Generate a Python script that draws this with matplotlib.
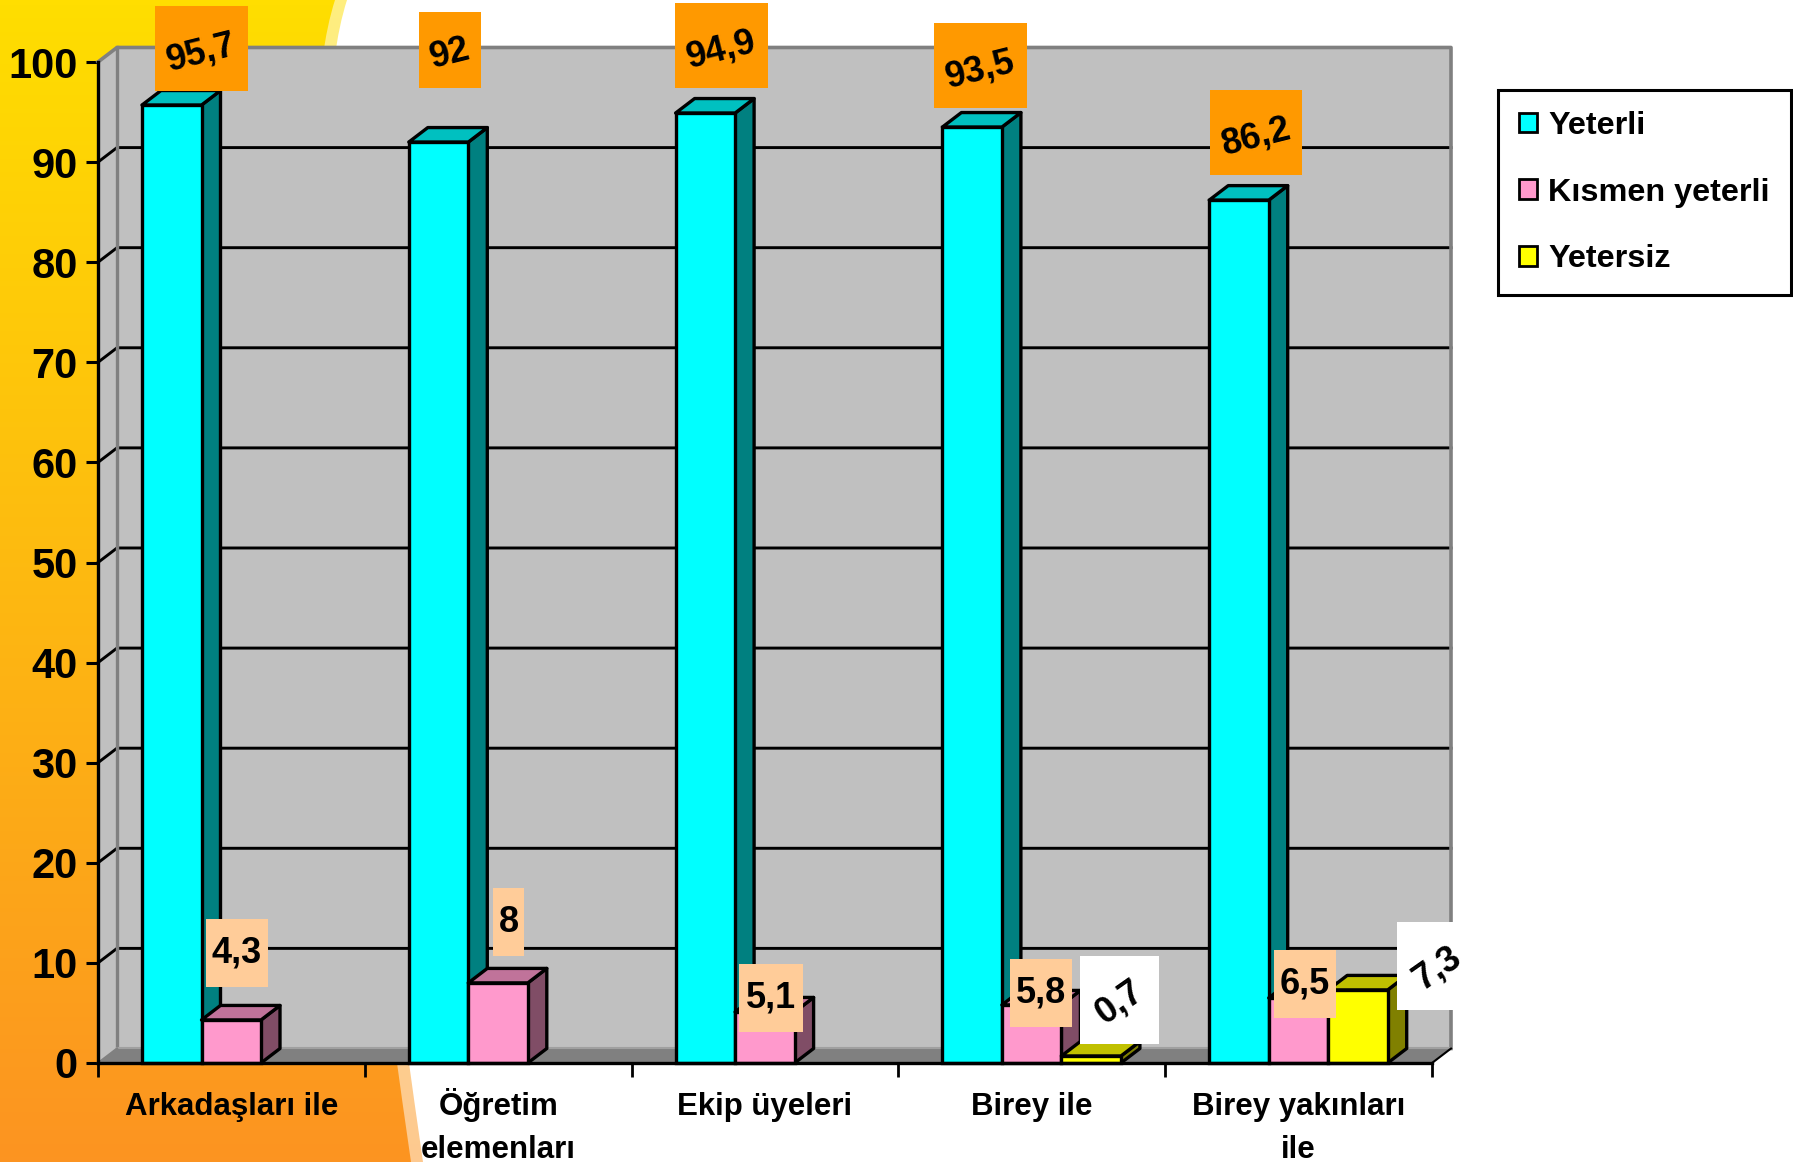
import numpy as np
import matplotlib
matplotlib.use("Agg")
import matplotlib.pyplot as plt
from matplotlib.patches import Patch, PathPatch, Rectangle
from matplotlib.path import Path
from matplotlib.transforms import ScaledTranslation

plt.rcParams['font.family'] = ['Liberation Sans', 'DejaVu Sans']
plt.rcParams['font.weight'] = 'bold'

W, H = 1793, 1162

categories = ['Arkadaşları ile', 'Öğretim\nelemenları', 'Ekip üyeleri', 'Birey ile', 'Birey yakınları\nile']
yeterli = [95.7, 92, 94.9, 93.5, 86.2]
kismen = [4.3, 8, 5.1, 5.8, 6.5]
yetersiz = [0, 0, 0, 0.7, 7.3]
series_names = ['Yeterli', 'Kısmen yeterli', 'Yetersiz']
y_ticks = list(range(0, 101, 10))

# front, side, top colours of each series
colors = [('#00FFFF', '#008080', '#00C0C0'),
          ('#FF99CC', '#804D66', '#C0739A'),
          ('#FFFF00', '#808000', '#C0C000')]

# label boxes in pixels (x0, y0, x1, y1), rotation of the text
boxes_1 = [(155, 6, 248, 91), (419, 12, 481, 88), (675, 3, 768, 88), (934, 23, 1027, 108), (1210, 90, 1302, 175)]
boxes_2 = [(206, 919, 268, 987), (493, 888, 524, 956), (739, 964, 803, 1032), (1010, 959, 1072, 1027), (1274, 950, 1336, 1018)]
boxes_3 = [None, None, None, (1080, 956, 1159, 1044), (1397, 922, 1477, 1010)]
box_colors = ['#FF9900', '#FFCC99', '#FFFFFF']
box_rot = [14, 0, 35]
box_shift = [4, 0, 2]

LW = 2.4
DX = 19 / 266.8   # 3d depth in category units
DY = 1.45         # 3d depth in value units
BAR_W = 59.5 / 266.8
BAR_START = 44 / 266.8

fig = plt.figure(figsize=(W / 100, H / 100), dpi=100, facecolor='white')

# background shape with the gradient
bg = fig.add_axes([0, 0, 1, 1], zorder=0)
bg.set_xlim(0, W)
bg.set_ylim(H, 0)
bg.axis('off')
grad = np.linspace(0, 1, 256).reshape(-1, 1, 1)
top, bottom = np.array([255, 222, 0]) / 255, np.array([252, 148, 33]) / 255
img = top + (bottom - top) * grad
light = img * 0.5 + 0.5


def side_shape(shift):
    verts = [(0, 0), (335 + shift, 0), (271 + shift, 195), (411 + shift, 1162), (0, 1162), (0, 0)]
    codes = [Path.MOVETO, Path.LINETO, Path.CURVE3, Path.CURVE3, Path.LINETO, Path.CLOSEPOLY]
    return PathPatch(Path(verts, codes), transform=bg.transData, fc='none', ec='none')


im1 = bg.imshow(light, extent=(0, W, H, 0), aspect='auto', zorder=1)
im1.set_clip_path(side_shape(12))
im2 = bg.imshow(img, extent=(0, W, H, 0), aspect='auto', zorder=2)
im2.set_clip_path(side_shape(0))
bg.set_xlim(0, W)
bg.set_ylim(H, 0)

# main chart, front plane of the 3d box
x0, x1 = 98, 1432
y0, y100 = 1063, 62
ax = fig.add_axes([x0 / W, 1 - y0 / H, (x1 - x0) / W, (y0 - y100) / H], zorder=1)
ax.patch.set_visible(False)
ax.set_xlim(0, 5)
ax.set_ylim(0, 100)

ax.fill([0, DX, DX, 0], [0, DY, 100 + DY, 100], color='#C0C0C0', lw=0, clip_on=False, zorder=1)
ax.fill([DX, 5 + DX, 5 + DX, DX], [DY, DY, 100 + DY, 100 + DY], color='#C0C0C0', lw=0, clip_on=False, zorder=1)
ax.fill([0, 5, 5 + DX, DX], [0, 0, DY, DY], color='#808080', lw=0, clip_on=False, zorder=1)

for v in y_ticks[1:-1]:
    ax.plot([0, DX, 5 + DX], [v, v + DY, v + DY], color='black', lw=2.1, clip_on=False, zorder=2)
ax.plot([0, DX, 5 + DX, 5 + DX], [100, 100 + DY, 100 + DY, DY], color='#808080', lw=2.6, clip_on=False, zorder=2)
ax.plot([DX, DX], [DY, 100 + DY], color='#808080', lw=2.4, clip_on=False, zorder=2)
ax.plot([DX, 5 + DX], [DY, DY], color='#A0A0A0', lw=1.5, clip_on=False, zorder=2)
ax.plot([0, DX], [0, DY], color='#808080', lw=1.5, clip_on=False, zorder=2)
ax.plot([5, 5 + DX], [0, DY], color='black', lw=1.5, clip_on=False, zorder=2)

for j, vals in enumerate([yeterli, kismen, yetersiz]):
    for i, v in enumerate(vals):
        if v == 0:
            continue
        left = i + BAR_START + j * BAR_W
        right = left + BAR_W
        z = 3 + j + i * 3
        ax.fill([right, right + DX, right + DX, right], [0, DY, v + DY, v], fc=colors[j][1], ec='black',
                lw=LW, clip_on=False, zorder=z, joinstyle='round')
        ax.fill([left, right, right + DX, left + DX], [v, v, v + DY, v + DY], fc=colors[j][2], ec='black',
                lw=LW, clip_on=False, zorder=z, joinstyle='round')
        ax.bar(left, v, BAR_W, align='edge', color=colors[j][0], edgecolor='black', linewidth=LW,
               clip_on=False, zorder=z + 0.5)

for s in ['top', 'right']:
    ax.spines[s].set_visible(False)
for s in ['left', 'bottom']:
    ax.spines[s].set_linewidth(2.4)
    ax.spines[s].set_zorder(40)
ax.set_xticks(range(6), labels=[''] * 6)
ax.set_xticks(np.arange(5) + 0.5, labels=categories, minor=True)
ax.set_yticks(y_ticks)
ax.tick_params(axis='x', which='major', length=10, width=2, color='black')
ax.tick_params(axis='x', which='minor', length=0, pad=21, labelsize=22.5)
ax.tick_params(axis='y', length=8.6, width=2.2, pad=6, labelsize=30)
for t in ax.get_xticklabels(minor=True):
    t.set_linespacing(1.55)
    t.set_fontweight('bold')
# the dotted capital pushes this one down, lift it back to the others
lift = ax.get_xticklabels(minor=True)[1]
lift.set_transform(lift.get_transform() + ScaledTranslation(0, 4 / 100, fig.dpi_scale_trans))

handles = [Patch(facecolor=colors[k][0], edgecolor='black', linewidth=2) for k in range(3)]
leg = fig.legend(handles, series_names, loc='upper left', bbox_to_anchor=(1498 / W, 1 - 90 / H), fontsize=23.3,
                 frameon=True, fancybox=False, edgecolor='black', framealpha=1, borderaxespad=0, borderpad=0.65,
                 handlelength=0.56, handleheight=0.56, handletextpad=0.35, labelspacing=1.13)
leg.get_frame().set_linewidth(2.2)
leg.set_zorder(5)

# value labels on top of everything
lab = fig.add_axes([0, 0, 1, 1], zorder=3)
lab.set_xlim(0, W)
lab.set_ylim(H, 0)
lab.axis('off')
for k, (vals, boxes) in enumerate(zip([yeterli, kismen, yetersiz], [boxes_1, boxes_2, boxes_3])):
    for v, b in zip(vals, boxes):
        if b is None:
            continue
        lab.add_patch(Rectangle((b[0], b[1]), b[2] - b[0], b[3] - b[1], fc=box_colors[k], ec='none', clip_on=False))
        lab.text((b[0] + b[2]) / 2, (b[1] + b[3]) / 2 + box_shift[k], f'{v:g}'.replace('.', ','), rotation=box_rot[k],
                 rotation_mode='anchor', ha='center', va='center', fontsize=26, fontweight='bold', color='black')

fig.savefig('out.png', dpi=100)
